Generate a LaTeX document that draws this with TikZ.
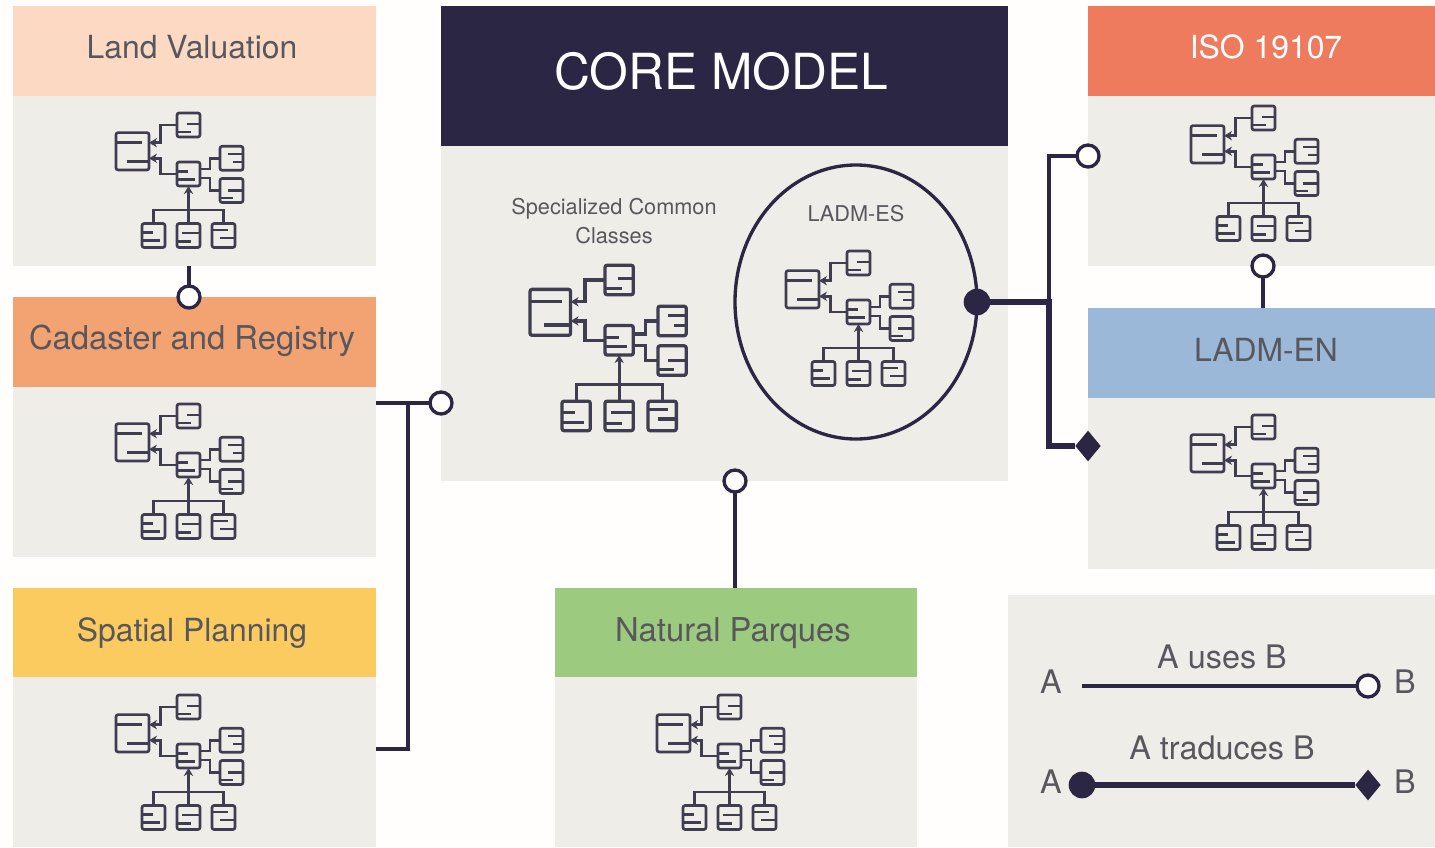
\documentclass[tikz,border=0pt]{standalone}
\usepackage{fontspec}
\setmainfont{TeX Gyre Heros}
\usetikzlibrary{fit,arrows.meta,shapes.geometric}
\definecolor{ink}{HTML}{2A2644}
\definecolor{iconink}{HTML}{3F3D50}
\definecolor{txt}{HTML}{58575E}
\definecolor{body}{HTML}{EFEDE8}
\definecolor{page}{HTML}{FFFEFC}
\definecolor{hLand}{HTML}{FBD9C3}
\definecolor{hCad}{HTML}{F3A272}
\definecolor{hSpa}{HTML}{FCCB60}
\definecolor{hNat}{HTML}{9CCB7F}
\definecolor{hIso}{HTML}{EF7B5E}
\definecolor{hEn}{HTML}{9BB8D8}
\newcommand{\fs}[1]{\fontsize{#1}{#1}\selectfont}
\tikzset{
  x=0.75pt,y=-0.75pt,
  panelbox/.style={inner sep=0pt,outer sep=0pt,draw=none},
  headtext/.style={text=txt,inner sep=0pt,font=\fs{23.9}},
  smalltext/.style={text=txt,inner sep=0pt,font=\fs{16.3}},
  legendtext/.style={text=txt,inner sep=0pt,font=\fs{24.3}},
  thinlink/.style={draw=ink,line width=2.6pt},
  thicklink/.style={draw=ink,line width=4.8pt},
  openend/.style={circle,draw=ink,fill=page,line width=2.5pt,minimum size=16.5pt,inner sep=0pt,outer sep=0pt},
  fullend/.style={circle,fill=ink,minimum size=20pt,inner sep=0pt,outer sep=0pt},
  diamondend/.style={diamond,fill=ink,minimum width=19pt,minimum height=23pt,inner sep=0pt,outer sep=0pt},
  cls/.style={draw=iconink,rounded corners=1.6pt,inner sep=0pt,outer sep=0pt,transform shape,minimum width=17.25pt,minimum height=18pt},
  bigcls/.style={cls,minimum width=24.75pt,minimum height=28pt},
}
% #1 prefix, #2 x, #3 y, #4 scale
\newcommand{\classicon}[4]{%
  \begin{scope}[shift={(#2,#3)},scale=#4,line width=#4*2pt,draw=iconink]
    \node[bigcls] (#1-big) at (16.5,39.3) {};
    \node[cls] (#1-top) at (72.5,13) {};
    \node[cls] (#1-mid) at (72.5,62) {};
    \node[cls] (#1-ra) at (115.5,46.3) {};
    \node[cls] (#1-rb) at (115.5,78.5) {};
    \node[cls] (#1-ba) at (37.5,123.5) {};
    \node[cls] (#1-bb) at (72.5,123.5) {};
    \node[cls] (#1-bc) at (107.5,123.5) {};
    \coordinate (#1-up) at (33,30.7);
    \coordinate (#1-lo) at (33,46.3);
    \draw[iconink,-{Stealth[length=6pt,width=7pt]}] (#1-top.west) -- ++(-16.3,0) |- (#1-up);
    \draw[iconink,-{Stealth[length=6pt,width=7pt]}] (#1-mid.west) -- ++(-16.3,0) |- (#1-lo);
    \draw[iconink] (#1-mid.east) ++(0,-5) -- ++(10,0) |- (#1-ra.west);
    \draw[iconink] (#1-mid.east) ++(0,4) -- ++(10,0) |- (#1-rb.west);
    \draw[iconink,-{Stealth[length=6pt,width=7pt]}] (#1-bb.north) -- (#1-mid.south);
    \draw[iconink] (#1-ba.north) -- ++(0,-13.5) -| (#1-bc.north);
    \draw[iconink] (0,30.7) -- (25.7,30.7) (11.3,49.7) -- (33,49.7);
    \draw[iconink] (71.3,12) -- (84,12) (61,20) -- (74.7,20);
    \draw[iconink] (61,59.7) -- (72,59.7) (61,67.3) -- (79,67.3);
    \draw[iconink] (112,42) -- (127,42) (117,50) -- (127,50);
    \draw[iconink] (112,78.7) -- (127,78.7) (104,86) -- (117,86);
    \draw[iconink] (26,120.7) -- (36.7,120.7) (26,128.7) -- (44,128.7);
    \draw[iconink] (65.7,121) -- (84,121) (61,129.7) -- (74.7,129.7);
    \draw[iconink] (96,118) -- (112,118) (104,126) -- (119,126);
  \end{scope}}
\begin{document}
\begin{tikzpicture}
\useasboundingbox (0,0) rectangle (1435,847);
\fill[page] (0,0) rectangle (1435,847);
% panels
\node[panelbox,fill=hLand,fit={(13,6)(376,96)}] (lvhead) {};
\node[panelbox,fill=body,fit={(13,96)(376,266)}] (lvbody) {};
\node[panelbox,fill=hCad,fit={(13,297)(376,387)}] (cadhead) {};
\node[panelbox,fill=body,fit={(13,387)(376,557)}] (cadbody) {};
\node[panelbox,fill=hSpa,fit={(13,588)(376,677)}] (spahead) {};
\node[panelbox,fill=body,fit={(13,677)(376,847)}] (spabody) {};
\node[panelbox,fill=ink,fit={(441,6)(1008,146)}] (corehead) {};
\node[panelbox,fill=body,fit={(441,146)(1008,481)}] (corebody) {};
\node[panelbox,fill=hNat,fit={(555,588)(917,677)}] (nathead) {};
\node[panelbox,fill=body,fit={(555,677)(917,847)}] (natbody) {};
\node[panelbox,fill=hIso,fit={(1088,6)(1435,96)}] (isohead) {};
\node[panelbox,fill=body,fit={(1088,96)(1435,266)}] (isobody) {};
\node[panelbox,fill=hEn,fit={(1088,308)(1435,398)}] (enhead) {};
\node[panelbox,fill=body,fit={(1088,398)(1435,569)}] (enbody) {};
\node[panelbox,fill=body,fit={(1008,595)(1435,847)}] (legend) {};
% titles
\node[headtext] (tlv) at (192,47) {Land Valuation};
\node[headtext,font=\fs{24.6}] (tcad) at (192,341) {Cadaster and Registry};
\node[headtext] (tspa) at (192,633) {Spatial Planning};
\node[headtext,font=\fs{24.6}] (tnat) at (733,633) {Natural Parques};
\node[headtext,text=white] (tiso) at (1266,47) {ISO 19107};
\node[headtext] (ten) at (1266,350) {LADM-EN};
\node[headtext,text=white,font=\fs{37.3}] (tcore) at (721,71) {CORE MODEL};
\node[smalltext,align=center] (tspec) at (614,221) {Specialized Common\\[5pt]Classes};
% LADM-ES circle
\node[ellipse,draw=ink,line width=2.5pt,minimum width=181.5pt,minimum height=205.5pt,inner sep=0pt,outer sep=0pt] (es) at (856,302) {};
\node[smalltext] (tes) at (856,214) {LADM-ES};
% icons
\classicon{lv}{116}{112}{1}
\classicon{cad}{116}{403}{1}
\classicon{spa}{116}{694}{1}
\classicon{nat}{657}{694}{1}
\classicon{iso}{1191}{105}{1}
\classicon{en}{1191}{414}{1}
\classicon{lad}{786}{250}{1}
\classicon{spec}{530}{264}{1.23}
% connector ends
\node[openend] (ulv) at (189,297) {};
\node[openend] (ucore) at (441,403) {};
\node[openend] (unat) at (735,481) {};
\node[openend] (uiso) at (1088,156) {};
\node[openend] (uen) at (1263,266) {};
\node[fullend] (fes) at (977,302) {};
\node[diamondend] (den) at (1088,446) {};
\coordinate (clv) at (189,266);
\coordinate (ccad) at (376,403);
\coordinate (cspa) at (376,749);
\coordinate (cbus) at (408,403);
\coordinate (cnat) at (735,588);
\coordinate (cen) at (1263,308);
\coordinate (cjoin) at (1049,302);
% connectors
\draw[thinlink] (clv) -- (ulv);
\draw[thinlink] (ccad) -- (ucore);
\draw[thinlink] (cspa) -| (cbus);
\draw[thinlink] (cnat) -- (unat);
\draw[thinlink] (cen) -- (uen);
\draw[thinlink] (cjoin) |- (uiso);
\draw[thicklink] (fes) -- (cjoin) |- (den);
% legend
\node[legendtext] (la) at (1051,682) {A};
\node[legendtext] (lb) at (1405,682) {B};
\node[legendtext] (luses) at (1222,657) {A uses B};
\node[legendtext] (ltrad) at (1222,748) {A traduces B};
\node[legendtext] (la2) at (1051,782) {A};
\node[legendtext] (lb2) at (1405,782) {B};
\coordinate (lstart) at (1082,686);
\node[openend,fill=page] (lu) at (1368,686) {};
\node[fullend] (lf) at (1082,785) {};
\node[diamondend] (ld) at (1368,785) {};
\draw[thinlink] (lstart) -- (lu);
\draw[thicklink] (lf) -- (ld);
\end{tikzpicture}
\end{document}
